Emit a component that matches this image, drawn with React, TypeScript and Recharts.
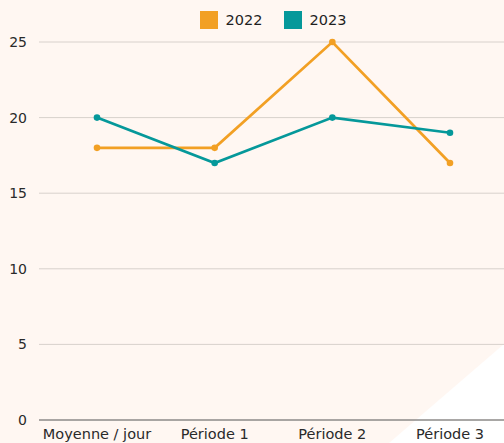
import { CartesianGrid, Legend, Line, LineChart, XAxis, YAxis } from "recharts";

const periods = ["Moyenne / jour", "Période 1", "Période 2", "Période 3"];
const values2022 = [18, 18, 25, 17];
const values2023 = [20, 17, 20, 19];
const yTicks = [0, 5, 10, 15, 20, 25];

const data = periods.map((name, i) => ({
  name,
  y2022: values2022[i],
  y2023: values2023[i],
}));

const FONT = "'DejaVu Sans', sans-serif";
const ORANGE = "#f2a024";
const TEAL = "#05989a";

const legendItems = [
  { label: "2022", color: ORANGE },
  { label: "2023", color: TEAL },
];

function ChartLegend() {
  return (
    <div
      style={{
        display: "flex",
        justifyContent: "center",
        alignItems: "center",
        gap: 21,
        height: 18,
        marginLeft: 42,
      }}
    >
      {legendItems.map((item) => (
        <div key={item.label} style={{ display: "flex", alignItems: "center" }}>
          <span
            style={{
              display: "inline-block",
              width: 18,
              height: 18,
              background: item.color,
              marginRight: 8,
            }}
          />
          <span style={{ color: "#1f1f1f", fontSize: 14.5, fontFamily: FONT }}>{item.label}</span>
        </div>
      ))}
    </div>
  );
}

export default function App() {
  return (
    <div
      style={{
        position: "absolute",
        left: 0,
        top: 0,
        width: 504,
        height: 443,
        background: "#fff7f2",
        fontFamily: FONT,
        overflow: "hidden",
      }}
    >
      <svg width={504} height={443} style={{ position: "absolute", left: 0, top: 0 }}>
        <polygon points="504,344 389,443 504,443" fill="#ffffff" />
      </svg>
      <div style={{ position: "absolute", left: 0, top: 0 }}>
        <LineChart
          width={504}
          height={443}
          data={data}
          margin={{ top: 24, right: 0, bottom: 0, left: 0 }}
        >
          <CartesianGrid vertical={false} stroke="#d8d1cc" strokeWidth={1} />
          <XAxis
            dataKey="name"
            type="category"
            scale="point"
            padding={{ left: 58, right: 54 }}
            axisLine={{ stroke: "#666666", strokeWidth: 1 }}
            tickLine={false}
            tick={{ fill: "#2a2a2a", fontSize: 14.5, fontFamily: FONT }}
            tickMargin={3}
            height={23}
            interval={0}
          />
          <YAxis
            domain={[0, 25]}
            ticks={yTicks}
            axisLine={false}
            tickLine={false}
            width={39}
            tickMargin={6}
            tick={{ fill: "#2a2a2a", fontSize: 14, fontFamily: FONT }}
          />
          <Legend
            verticalAlign="top"
            align="center"
            height={18}
            wrapperStyle={{ top: 11, left: 0, width: 504 }}
            content={() => <ChartLegend />}
          />
          <Line
            type="linear"
            dataKey="y2022"
            name="2022"
            stroke={ORANGE}
            strokeWidth={2.7}
            dot={{ r: 3.3, fill: ORANGE, stroke: ORANGE, strokeWidth: 0 }}
            isAnimationActive={false}
          />
          <Line
            type="linear"
            dataKey="y2023"
            name="2023"
            stroke={TEAL}
            strokeWidth={2.7}
            dot={{ r: 3.3, fill: TEAL, stroke: TEAL, strokeWidth: 0 }}
            isAnimationActive={false}
          />
        </LineChart>
      </div>
    </div>
  );
}
